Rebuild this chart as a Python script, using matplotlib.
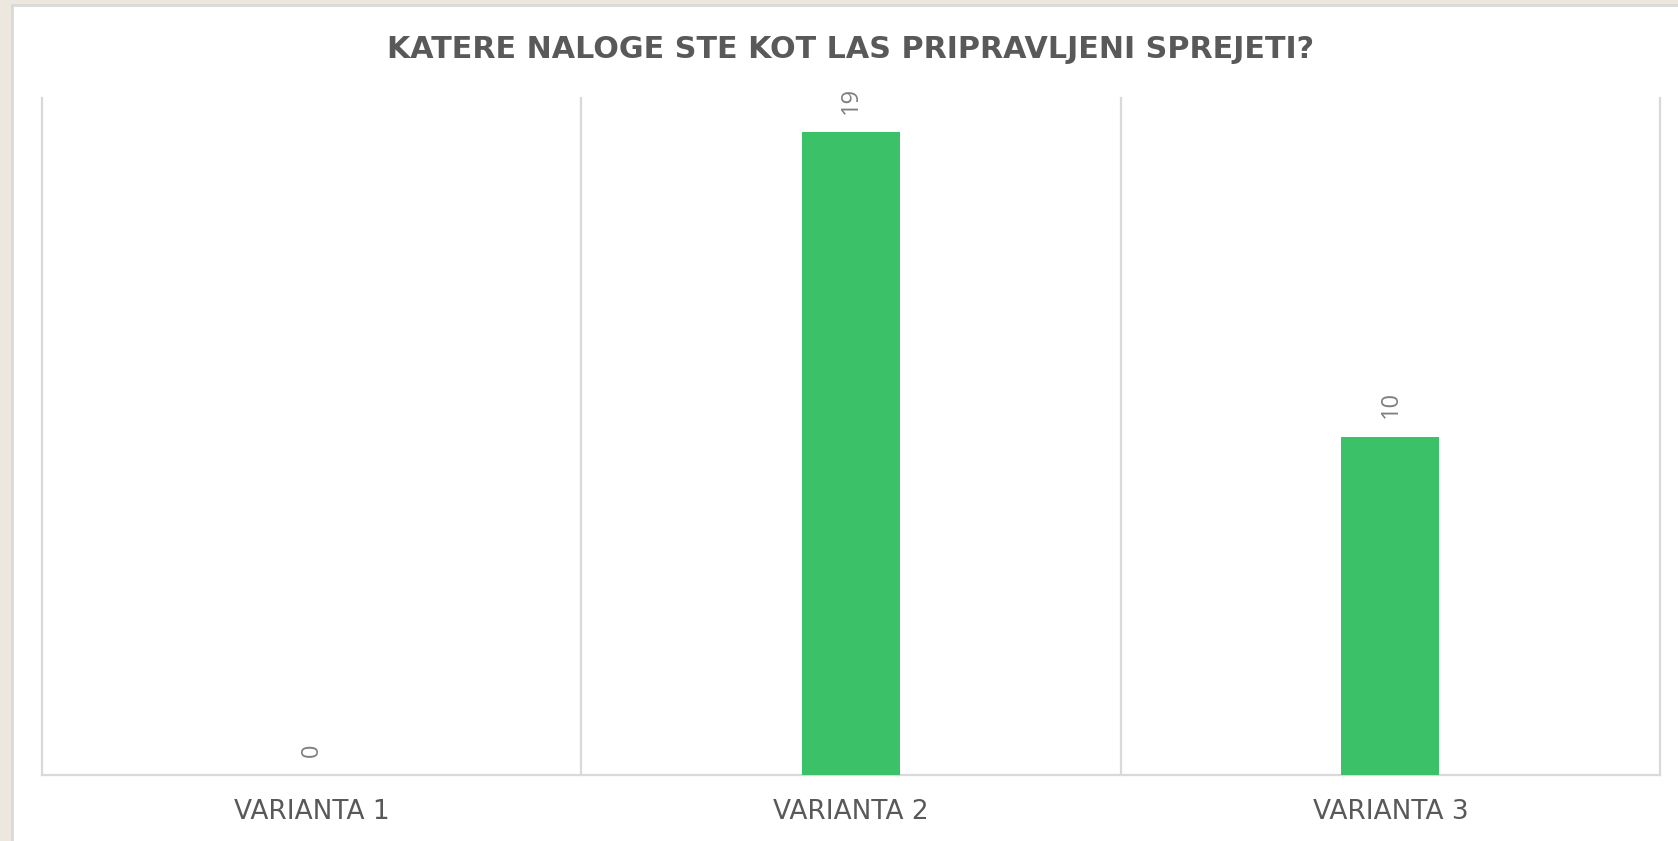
import matplotlib
matplotlib.use("Agg")
import matplotlib.pyplot as plt
from matplotlib.patches import Rectangle

categories = ["VARIANTA 1", "VARIANTA 2", "VARIANTA 3"]
values = [0, 19, 10]
title = "KATERE NALOGE STE KOT LAS PRIPRAVLJENI SPREJETI?"

W, H = 1678, 841
fig = plt.figure(figsize=(W / 100, H / 100), dpi=100)
fig.patch.set_facecolor("#ECE8E0")

# white chart panel
panel = Rectangle((12 / W, -0.1), 1.1, (H - 5) / H + 0.1, transform=fig.transFigure,
                  facecolor="white", edgecolor="#D9D9D9", linewidth=2, zorder=-5)
fig.patches.append(panel)

ax = fig.add_axes([42 / W, 66 / H, (1660 - 42) / W, (775 - 98) / H])
ax.set_zorder(2)
ax.set_facecolor("none")
x = list(range(len(categories)))
ax.bar(x, values, width=0.182, color="#3BC168", zorder=3)
ax.set_xlim(-0.5, len(categories) - 0.5)
ax.set_ylim(0, 20)

for b in [i - 0.5 for i in range(len(categories) + 1)]:
    ax.axvline(b, color="#D9D9D9", linewidth=1.6, zorder=1, clip_on=False)

for s in ["top", "left", "right"]:
    ax.spines[s].set_visible(False)
ax.spines["bottom"].set_color("#D9D9D9")
ax.spines["bottom"].set_linewidth(1.6)
ax.set_yticks([])
ax.set_xticks(x)
ax.set_xticklabels(categories, fontsize=19, color="#595959", family="DejaVu Sans")
ax.tick_params(axis="x", length=0, pad=17)

for xi, v in zip(x, values):
    ax.annotate(str(v), (xi, v), xytext=(0, 13), textcoords="offset points",
                rotation=90, ha="center", va="bottom", fontsize=17,
                color="#7F7F7F", family="Open Sans")

fig.text(851 / W, 1 - 49 / H, title, ha="center", va="center", fontsize=21.7,
         fontweight="bold", color="#595959", family="DejaVu Sans")

fig.savefig("out.png", dpi=100, facecolor=fig.get_facecolor())
